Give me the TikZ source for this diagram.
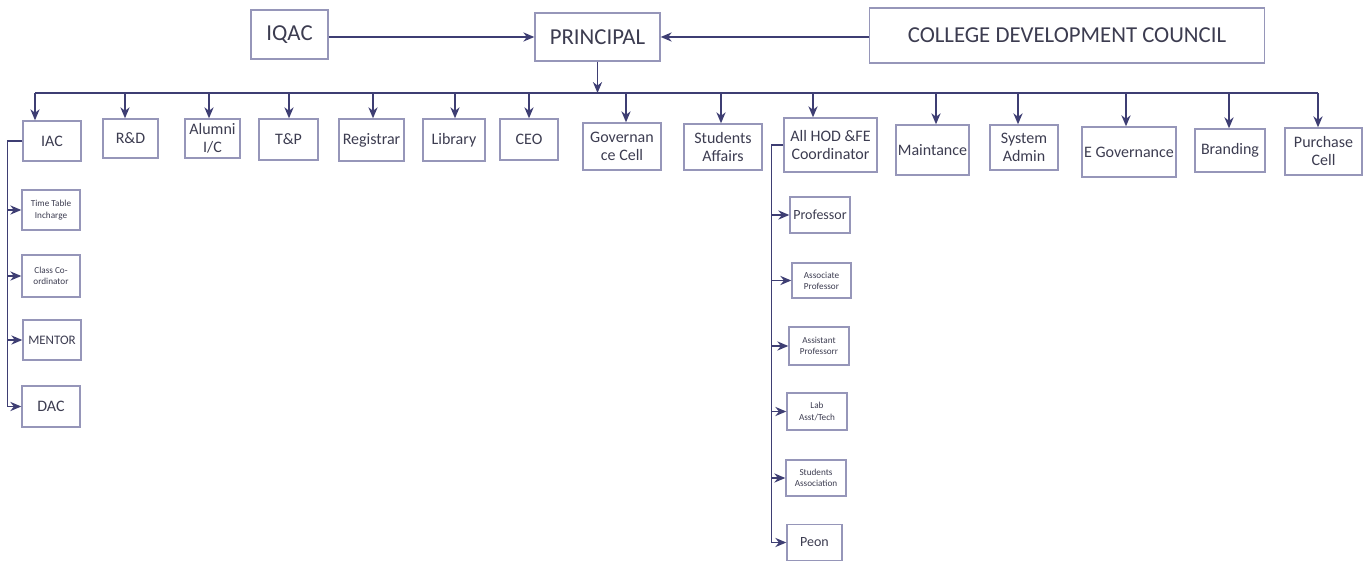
\documentclass[tikz,border=0pt]{standalone}
\usepackage{fontspec}
\setmainfont{Carlito}
\usepackage{xcolor}
\usetikzlibrary{arrows.meta}

\definecolor{boxgray}{RGB}{150,150,185}
\definecolor{linenavy}{RGB}{62,62,115}
\definecolor{txtgray}{RGB}{60,60,80}

\begin{document}
\begin{tikzpicture}[
    x=0.5pt, y=-0.5pt,
    sz/.style 2 args={minimum width=#1*0.5pt, minimum height=#2*0.5pt},
    box/.style={rectangle, draw=boxgray, line width=0.7pt, inner sep=0pt, align=center, text=txtgray},
    topbox/.style={box, font=\fontsize{11.4}{12.4}\selectfont},
    unit/.style={box, font=\fontsize{8}{9}\selectfont},
    sub/.style={box, font=\fontsize{4.6}{5.6}\selectfont},
    line/.style={draw=linenavy, line width=0.8pt},
    arrow/.style={line, -{Stealth[length=5.5pt, width=4.6pt]}}
]
\useasboundingbox (0,0) rectangle (1369,561);

% Top level
\node [topbox, sz={77}{49}] at (289.5,34.5) (iqac) {IQAC};
\node [topbox, sz={125}{48}] at (597.5,37) (principal) {PRINCIPAL};
\node [topbox, sz={395}{55}] at (1067,35.5) (cdc) {COLLEGE DEVELOPMENT COUNCIL};

\draw [arrow] (iqac.east |- principal) -- (principal.west);
\draw [arrow] (cdc.west |- principal) -- (principal.east);

% Bus line
\coordinate (busL) at (35,93);
\coordinate (busR) at (1318,93);
\draw [arrow, line width=0.6pt] (principal.south) -- (principal.south |- busL);
\draw [line] (busL) -- (busR);

% Second row
\node [unit, sz={58}{40}] at (52,141) (iac) {IAC};
\node [unit, sz={55}{39}] at (130.5,138.5) (rnd) {R\&D};
\node [unit, sz={55}{39}] at (212.5,138.5) (alumni) {Alumni\\I/C};
\node [unit, sz={59}{41}] at (288.5,139.5) (tnp) {T\&P};
\node [unit, sz={65}{42}] at (371.5,140) (registrar) {Registrar};
\node [unit, sz={62}{42}] at (454,140) (library) {Library};
\node [unit, sz={58}{41}] at (529,139.5) (ceo) {CEO};
\node [unit, sz={78}{47}] at (622,146.5) (govcell) {Governan\\ce Cell};
\node [unit, sz={78}{46}] at (723,147) (stuaff) {Students\\Affairs};
\node [unit, sz={93}{54}] at (830.5,145) (hod) {All HOD \&FE\\Coordinator};
\node [unit, sz={73}{50}] at (932.5,150) (maint) {Maintance};
\node [unit, sz={68}{45}] at (1024,147.5) (sysadmin) {System\\Admin};
\node [unit, sz={94}{50}] at (1129,152) (egov) {E Governance};
\node [unit, sz={70}{43}] at (1230,150.5) (branding) {Branding};
\node [unit, sz={77}{47}] at (1323.5,151.5) (purchase) {Purchase\\Cell};

\foreach \n/\x in {iac/35, rnd/125, alumni/209, tnp/289, registrar/373, library/455,
    ceo/529, govcell/626, stuaff/721, hod/813, maint/936, sysadmin/1018,
    egov/1126, branding/1229, purchase/1318}
    \draw [arrow] (\x,0 |- busL) -- (\x,0 |- \n.north);

% IAC branch
\node [sub, sz={58}{40}] at (51,210) (ttable) {Time Table\\Incharge};
\node [sub, sz={58}{42}] at (51,276) (classco) {Class Co-\\ordinator};
\node [box, font=\fontsize{6.5}{7.5}\selectfont, sz={58}{40}] at (52,340) (mentor) {MENTOR};
\node [unit, sz={58}{41}] at (51,406.5) (dac) {DAC};

\draw [arrow] (iac.west) -- ++(-15,0) coordinate (iacbend) |- (dac.west);
\foreach \n in {ttable, classco, mentor}
    \draw [arrow] (iacbend |- \n.west) -- (\n.west);

% HOD branch
\node [box, font=\fontsize{7}{8}\selectfont, sz={60}{36}] at (820,215) (prof) {Professor};
\node [sub, sz={59}{35}] at (821.5,280.5) (assoc) {Associate\\Professor};
\node [sub, sz={60}{38}] at (819,346) (assist) {Assistant\\Professorr};
\node [sub, sz={60}{37}] at (817,411.5) (lab) {Lab\\Asst/Tech};
\node [sub, sz={60}{36}] at (816,478) (stuass) {Students\\Association};
\node [box, font=\fontsize{7}{8}\selectfont, sz={55}{36}] at (814.5,542.5) (peon) {Peon};

\draw [arrow] (hod.west) -- ++(-12,0) coordinate (hodbend) |- (peon.west);
\foreach \n in {prof, assoc, assist, lab, stuass}
    \draw [arrow] (hodbend |- \n.west) -- (\n.west);

\end{tikzpicture}
\end{document}
